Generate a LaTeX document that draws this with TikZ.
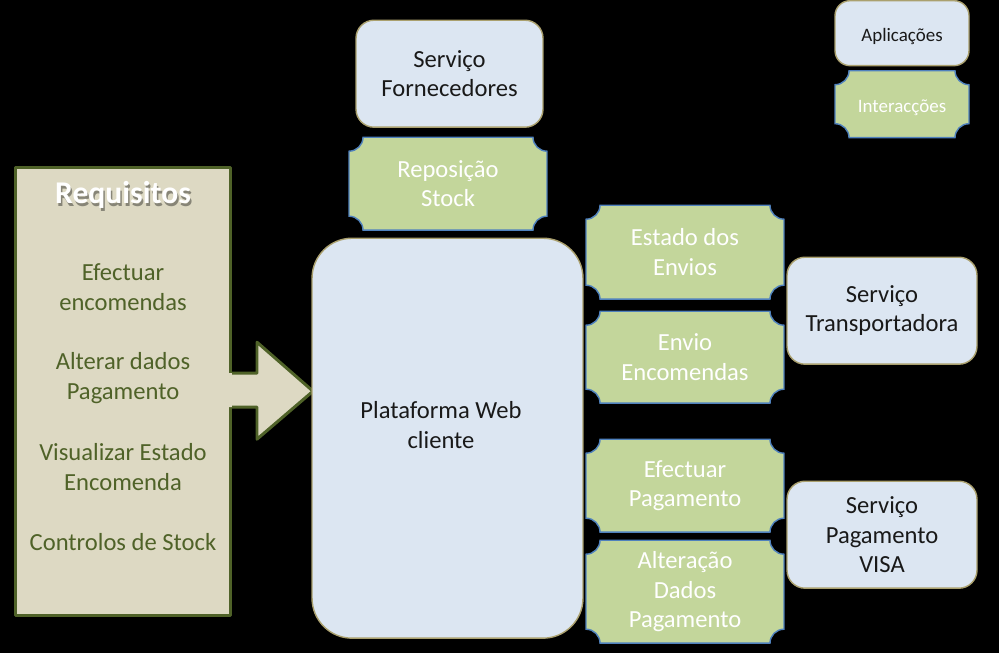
\documentclass[tikz,border=0pt]{standalone}
\usepackage{fontspec}
\setmainfont{Carlito}
\usetikzlibrary{calc}

\definecolor{appfill}{RGB}{220,230,242}
\definecolor{appline}{RGB}{170,160,110}
\definecolor{apptext}{RGB}{25,25,25}
\definecolor{plaquefill}{RGB}{195,214,155}
\definecolor{plaqueline}{RGB}{79,129,189}
\definecolor{reqfill}{RGB}{221,217,195}
\definecolor{reqline}{RGB}{79,98,40}

\pgfdeclarelayer{back}
\pgfsetlayers{back,main}

\newcommand{\notch}{0.28cm}
\newcommand{\plaqueback}[1]{%
  \begin{pgfonlayer}{back}
  \filldraw[fill=plaquefill, draw=plaqueline, line width=0.8pt]
    ($(#1.south west)+(0,\notch)$) -- ($(#1.north west)-(0,\notch)$)
    arc[start angle=-90, end angle=0, radius=\notch] -- ($(#1.north east)-(\notch,0)$)
    arc[start angle=180, end angle=270, radius=\notch] -- ($(#1.south east)+(0,\notch)$)
    arc[start angle=90, end angle=180, radius=\notch] -- ($(#1.south west)+(\notch,0)$)
    arc[start angle=0, end angle=90, radius=\notch] -- cycle;
  \end{pgfonlayer}}

\tikzset{
  bigtxt/.style={font=\fontsize{14}{16.7}\selectfont,
    execute at begin node={\rule{0pt}{14.5pt}}},
  smalltxt/.style={font=\fontsize{10.8}{13}\selectfont,
    execute at begin node={\rule{0pt}{11.5pt}}},
  app/.style={draw=appline, line width=0.8pt, fill=appfill, text=apptext,
    rounded corners=0.36cm, align=center, inner sep=0pt, outer sep=0pt},
  plaque/.style={text=white, align=center, inner sep=0pt, outer sep=0pt,
    minimum width=3.96cm},
  req/.style={font=\fontsize{14}{16.7}\selectfont, text=reqline, align=center},
  reqtitle/.style={font=\fontsize{18}{20}\selectfont\bfseries, text=white},
  reqedge/.style={draw=reqline, line width=1.7pt, line join=round},
}

\begin{document}
\begin{tikzpicture}[x=0.02cm, y=0.02cm]
\begin{pgfonlayer}{back}
\fill[black] (0,0) rectangle (999,-653);
\end{pgfonlayer}

% requisitos
\node[reqedge, fill=reqfill, minimum width=4.32cm, minimum height=8.96cm, outer sep=0pt] (req) at (123,-391) {};
\node[reqtitle, text=black!55!reqfill, opacity=0.7] (reqshadow) at (124.5,-197.5) {Requisitos};
\node[reqtitle] (reqtitle) at (123,-195) {Requisitos};
\node[req] (r1) at (123,-287) {Efectuar\\encomendas};
\node[req] (r2) at (123,-378) {Alterar dados\\Pagamento};
\node[req] (r3) at (123,-467) {Visualizar Estado\\Encomenda};
\node[req] (r4) at (123,-542) {Controlos de Stock};

% seta
\fill[reqfill] (227,-373) -- (257,-373) -- (257,-342) -- (313,-391) -- (257,-439) -- (257,-407) -- (227,-407) -- cycle;
\draw[reqedge] (232,-373) -- (257,-373) -- (257,-342) -- (313,-391) -- (257,-439) -- (257,-407) -- (232,-407);

% aplicacoes
\node[app, rounded corners=0.8cm, minimum width=5.42cm, minimum height=8cm] (web) at (447.5,-438) {};
\node[font=\fontsize{14}{16.7}\selectfont, align=center, text=apptext] (weblbl) at (441,-425) {Plataforma Web\\cliente};
\node[app, bigtxt, minimum width=3.74cm, minimum height=2.14cm] (forn) at (449.5,-73.5) {Serviço\\Fornecedores};
\node[app, bigtxt, minimum width=3.8cm, minimum height=2.14cm] (transp) at (882,-310.5) {Serviço\\Transportadora};
\node[app, bigtxt, minimum width=3.8cm, minimum height=2.14cm] (visa) at (882,-534.5) {Serviço\\Pagamento\\VISA};

% interaccoes
\node[plaque, bigtxt, minimum height=1.86cm] (repo) at (448,-183.5) {Reposição\\Stock};
\node[plaque, bigtxt, minimum height=1.88cm] (estado) at (685,-252) {Estado dos\\Envios};
\node[plaque, bigtxt, minimum height=1.84cm] (envio) at (685,-357) {Envio\\Encomendas};
\node[plaque, bigtxt, minimum height=1.86cm] (efect) at (685,-485.5) {Efectuar\\Pagamento};
\node[plaque, bigtxt, minimum height=2.06cm] (alter) at (685,-591.5) {Alteração\\Dados\\Pagamento};

% legenda
\node[app, smalltxt, rounded corners=0.3cm, minimum width=2.68cm, minimum height=1.3cm] (legapp) at (902,-33) {Aplicações};
\node[plaque, smalltxt, minimum width=2.68cm, minimum height=1.34cm] (leginter) at (902,-104) {Interacções};

\foreach \n in {repo,estado,envio,efect,alter,leginter} {\plaqueback{\n}}
\end{tikzpicture}
\end{document}
